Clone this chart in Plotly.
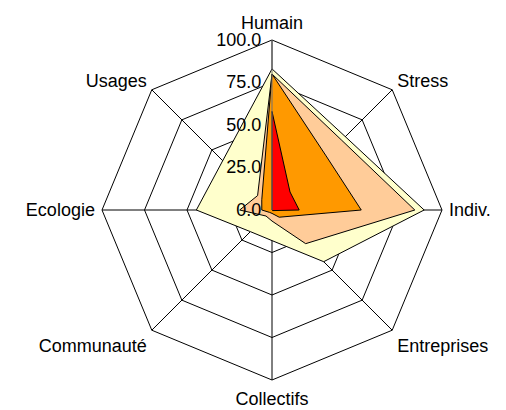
import plotly.graph_objects as go

categories = ["Humain", "Stress", "Indiv.", "Entreprises", "Collectifs", "Communauté", "Ecologie", "Usages"]

serie_jaune = [83, 61, 89.5, 43, 18, 18, 44.5, 41]
serie_peche = [80, 58, 84, 28, 6.5, 5, 19, 12]
serie_orange = [80, 45, 52.5, 6, 2, 2, 6, 8.5]
serie_rouge = [58, 15, 16, 0.5, 0, 0, 0, 0]

radial_ticks = [0, 25, 50, 75, 100]
radial_ticktext = ["0.0", "25.0", "50.0", "75.0", "100.0"]

series = [
    ("S1", serie_jaune, "#FFFFCC"),
    ("S2", serie_peche, "#FFCC99"),
    ("S3", serie_orange, "#FF9900"),
    ("S4", serie_rouge, "#FF0000"),
]

fig = go.Figure()
for name, vals, color in series:
    fig.add_trace(go.Scatterpolar(
        r=vals + vals[:1],
        theta=categories + categories[:1],
        mode="lines",
        fill="toself",
        fillcolor=color,
        line=dict(color="black", width=1),
        name=name,
        showlegend=False,
        hoverinfo="skip",
    ))

W, H = 506, 410
cx, cy, R = 264.0, 208.0, 170.0

fig.update_layout(
    width=W, height=H,
    margin=dict(l=0, r=0, t=0, b=0),
    paper_bgcolor="white",
    plot_bgcolor="white",
    font=dict(family="Liberation Sans, Arial, sans-serif", size=18, color="black"),
    polar=dict(
        domain=dict(x=[(cx - R) / W, (cx + R) / W], y=[(cy - R) / H, (cy + R) / H]),
        bgcolor="white",
        gridshape="linear",
        angularaxis=dict(
            rotation=90,
            direction="clockwise",
            showline=True,
            linecolor="black",
            linewidth=1,
            gridcolor="black",
            gridwidth=1,
            ticks="outside",
            ticklen=3,
            tickcolor="rgba(0,0,0,0)",
            tickfont=dict(size=18, color="black"),
        ),
        radialaxis=dict(
            range=[0, 100],
            angle=90,
            side="counterclockwise",
            tickvals=radial_ticks,
            ticktext=radial_ticktext,
            showline=True,
            linecolor="#707070",
            linewidth=1,
            gridcolor="black",
            gridwidth=1,
            ticks="outside",
            ticklen=4,
            tickcolor="rgba(0,0,0,0)",
            tickangle=90,
            tickfont=dict(size=18, color="black"),
        ),
    ),
)

fig.write_html("out.html")
